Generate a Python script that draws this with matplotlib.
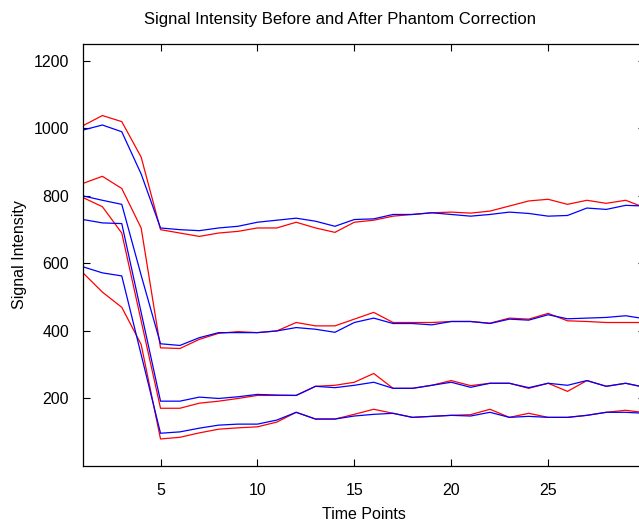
import numpy as np
import matplotlib.pyplot as plt

plt.rcParams['font.family'] = ['Liberation Sans', 'DejaVu Sans']

t = np.arange(1, 31)

# before correction (red) / after correction (blue), four curves each
red_a = [1008, 1038, 1020, 915, 700, 690, 680, 690, 695, 705, 705, 722, 705, 692, 722,
         728, 740, 745, 750, 752, 749, 755, 770, 785, 790, 775, 787, 778, 787, 765]
blue_a = [995, 1010, 990, 865, 705, 700, 697, 705, 710, 722, 728, 734, 725, 710, 730,
          732, 745, 745, 750, 745, 740, 745, 752, 748, 740, 742, 764, 760, 772, 770]
red_b = [837, 858, 822, 705, 350, 348, 375, 393, 398, 395, 400, 425, 415, 415, 435,
         455, 425, 425, 425, 428, 428, 423, 438, 435, 452, 430, 428, 425, 425, 425]
blue_b = [800, 787, 775, 565, 362, 357, 380, 395, 395, 395, 400, 410, 405, 396, 425,
          438, 422, 422, 418, 428, 428, 422, 435, 432, 448, 436, 438, 440, 445, 436]
red_c = [795, 768, 690, 430, 171, 171, 186, 192, 200, 209, 209, 209, 236, 239, 248,
         274, 230, 230, 239, 253, 238, 245, 245, 230, 245, 221, 253, 236, 245, 233]
blue_c = [730, 720, 718, 455, 192, 192, 204, 200, 205, 212, 210, 209, 236, 232, 239,
          248, 230, 230, 239, 248, 233, 245, 245, 232, 245, 239, 253, 236, 245, 233]
red_d = [572, 515, 470, 360, 80, 85, 98, 109, 113, 116, 130, 159, 139, 139, 153,
         168, 156, 144, 147, 150, 152, 168, 144, 156, 144, 144, 150, 159, 165, 158]
blue_d = [590, 572, 563, 330, 97, 101, 112, 121, 124, 124, 136, 159, 139, 139, 148,
          153, 156, 144, 147, 150, 148, 159, 144, 147, 144, 144, 150, 159, 159, 156]

fig = plt.figure(figsize=(6.39, 5.26), dpi=100)
ax = fig.add_axes([0.1299, 0.1141, 0.8795, 0.8023])

for r in [red_a, red_b, red_c, red_d]:
    ax.plot(t, r, color='red', lw=0.9)
for b in [blue_a, blue_b, blue_c, blue_d]:
    ax.plot(t, b, color='blue', lw=0.9)

ax.set_xlim(1, 30)
ax.set_ylim(0, 1250)
ax.set_xticks([5, 10, 15, 20, 25])
ax.set_yticks([200, 400, 600, 800, 1000, 1200])
ax.tick_params(direction='in', length=5, width=0.8, top=True, right=True, labelsize=11.5)
ax.tick_params(axis='x', pad=12.5)
ax.tick_params(axis='y', pad=10)
for s in ax.spines.values():
    s.set_linewidth(0.9)

ax.set_title('Signal Intensity Before and After Phantom Correction', fontsize=12, pad=14.5, x=0.457)
ax.set_xlabel('Time Points', fontsize=11.5, labelpad=6)
ax.set_ylabel('Signal Intensity', fontsize=11.5, labelpad=4.5)

fig.savefig('out.png', dpi=100)
